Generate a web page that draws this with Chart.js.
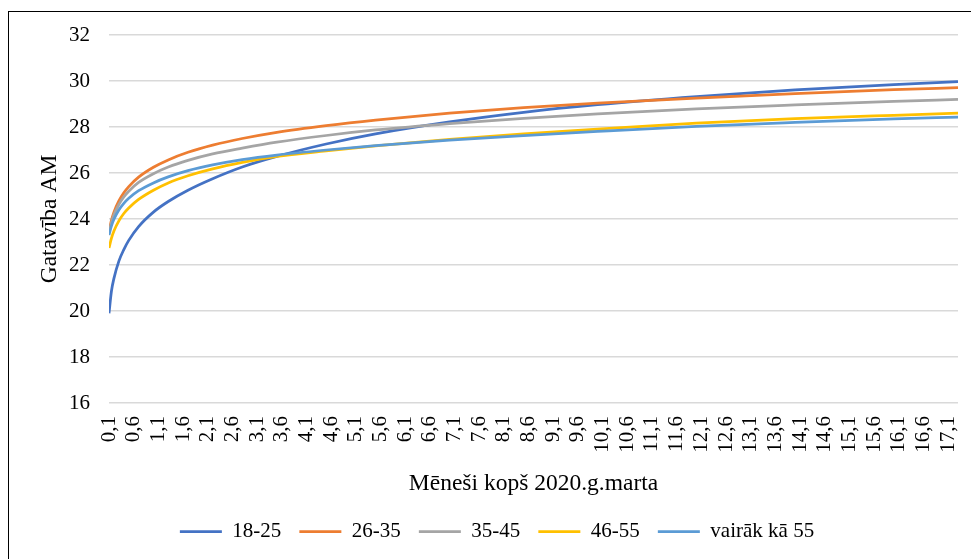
<!DOCTYPE html>
<html>
<head>
<meta charset="utf-8">
<script src="https://cdn.jsdelivr.net/npm/chart.js@4.4.1/dist/chart.umd.min.js"></script>
<style>
  html, body { margin: 0; padding: 0; background: #fff; overflow: hidden; width: 971px; height: 559px; }
  #frame { position: absolute; left: 8px; top: 11px; width: 978px; height: 560px; border: 1px solid #000; background: #fff; }
  canvas { display: block; }
</style>
</head>
<body>
<div id="frame"><canvas id="chart" width="978" height="560"></canvas></div>
<script>
// Months since March 2020 at which each curve is sampled
const months = [0.1, 0.15, 0.2, 0.3, 0.4, 0.5, 0.7, 1.0, 1.3, 1.7, 2.2, 2.8, 3.5, 4.5, 5.5, 7.0, 8.5, 10.0, 12.0, 14.0, 16.0, 17.3];

// Readiness (Gatavība AM) by age group
const age18_25 = [19.90, 20.87, 21.42, 22.17, 22.67, 23.07, 23.67, 24.30, 24.76, 25.25, 25.75, 26.26, 26.72, 27.26, 27.70, 28.22, 28.64, 28.97, 29.32, 29.61, 29.84, 29.97];
const age26_35 = [23.45, 23.95, 24.30, 24.79, 25.14, 25.41, 25.82, 26.25, 26.57, 26.90, 27.21, 27.50, 27.77, 28.06, 28.30, 28.60, 28.84, 29.04, 29.26, 29.45, 29.62, 29.71];
const age35_45 = [23.40, 23.85, 24.18, 24.63, 24.96, 25.21, 25.59, 25.97, 26.26, 26.55, 26.83, 27.08, 27.34, 27.63, 27.87, 28.15, 28.38, 28.57, 28.79, 28.96, 29.11, 29.20];
const age46_55 = [22.74, 23.17, 23.48, 23.92, 24.24, 24.48, 24.85, 25.25, 25.57, 25.88, 26.18, 26.46, 26.72, 26.96, 27.18, 27.46, 27.70, 27.91, 28.17, 28.36, 28.51, 28.60];
const age55plus = [23.30, 23.70, 23.99, 24.39, 24.68, 24.90, 25.23, 25.57, 25.83, 26.10, 26.35, 26.58, 26.78, 27.00, 27.19, 27.43, 27.63, 27.81, 28.03, 28.20, 28.35, 28.43];

const seriesNames = ['18-25', '26-35', '35-45', '46-55', 'vairāk kā 55'];
const seriesValues = [age18_25, age26_35, age35_45, age46_55, age55plus];
const seriesColors = ['#4472C4', '#ED7D31', '#A5A5A5', '#FFC000', '#5B9BD5'];

// Category-style tick labels along the month axis
const monthTicks = [0.1, 0.6, 1.1, 1.6, 2.1, 2.6, 3.1, 3.6, 4.1, 4.6, 5.1, 5.6, 6.1, 6.6, 7.1, 7.6, 8.1, 8.6, 9.1, 9.6,
  10.1, 10.6, 11.1, 11.6, 12.1, 12.6, 13.1, 13.6, 14.1, 14.6, 15.1, 15.6, 16.1, 16.6, 17.1];
const yTicks = [16, 18, 20, 22, 24, 26, 28, 30, 32];

const SERIF = "'Liberation Serif', 'Times New Roman', serif";
const FONT = { family: SERIF, size: 21 };
const TITLE_FONT = { family: SERIF, size: 23.5 };

const datasets = seriesNames.map((name, i) => ({
  label: name,
  data: months.map((m, j) => ({ x: m, y: seriesValues[i][j] })),
  borderColor: seriesColors[i],
  backgroundColor: seriesColors[i],
  borderWidth: 2.75,
  pointRadius: 0,
  pointHoverRadius: 0,
  fill: false,
  cubicInterpolationMode: 'monotone',
  order: seriesNames.length - i
}));

new Chart(document.getElementById('chart'), {
  type: 'line',
  data: { datasets },
  options: {
    responsive: false,
    animation: false,
    events: [],
    layout: { padding: { top: 23, right: 29, bottom: 20, left: 27 } },
    plugins: {
      tooltip: { enabled: false },
      legend: {
        position: 'bottom',
        align: 'center',
        labels: {
          usePointStyle: true,
          pointStyle: 'line',
          pointStyleWidth: 42,
          padding: 18,
          color: '#000',
          font: FONT,
          sort: (a, b) => a.datasetIndex - b.datasetIndex
        }
      }
    },
    scales: {
      x: {
        type: 'linear',
        min: months[0],
        max: months[months.length - 1],
        afterBuildTicks: (scale) => { scale.ticks = monthTicks.map(v => ({ value: v })); },
        afterFit: (scale) => { scale.height = 100; },
        grid: { display: false, drawTicks: false },
        border: { display: false },
        ticks: {
          autoSkip: false,
          minRotation: 90,
          maxRotation: 90,
          padding: 13,
          color: '#000',
          font: FONT,
          callback: (v) => Number(v).toFixed(1).replace('.', ',')
        },
        title: {
          display: true,
          text: 'Mēneši kopš 2020.g.marta',
          color: '#000',
          font: TITLE_FONT,
          padding: { top: 0, bottom: 5.5 }
        }
      },
      y: {
        min: 16,
        max: 32,
        afterBuildTicks: (scale) => { scale.ticks = yTicks.map(v => ({ value: v })); },
        afterFit: (scale) => {
          scale.width = 73;
          scale.paddingTop = 12;
          scale.paddingBottom = 12;
        },
        grid: { color: '#d9d9d9', lineWidth: 1.5, drawTicks: false },
        border: { display: false },
        ticks: { padding: 19, color: '#000', font: FONT },
        title: {
          display: true,
          text: 'Gatavība AM',
          color: '#000',
          font: TITLE_FONT,
          padding: { top: 0, bottom: 0 }
        }
      }
    }
  }
});
</script>
</body>
</html>
